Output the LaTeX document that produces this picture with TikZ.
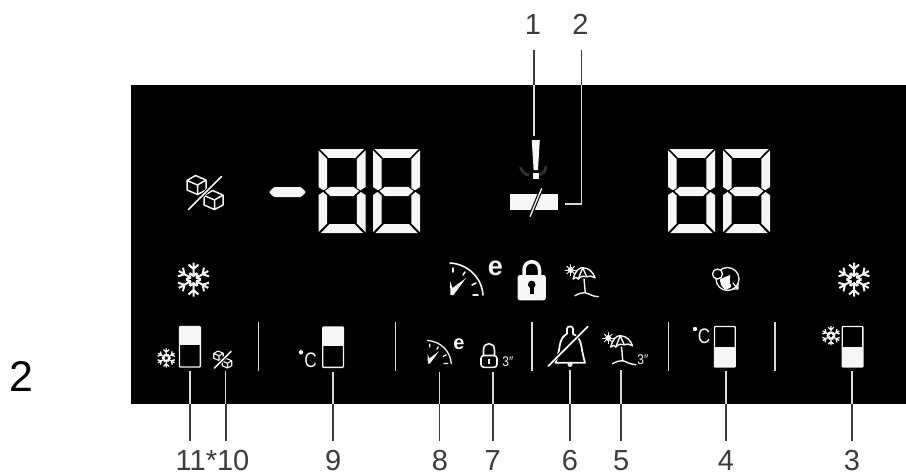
\documentclass[tikz,border=0pt]{standalone}
\usepackage{fontspec}
\setmainfont{Liberation Sans}
\definecolor{ink}{HTML}{F6F6F6}
\definecolor{leadin}{HTML}{D8D8D8}
\definecolor{leadout}{HTML}{3C3C3C}
\tikzset{
  panel/.style={fill=black,draw=none},
  callnum/.style={font=\fontsize{29}{29}\selectfont,text=leadout,anchor=base,inner sep=0pt},
  sidenum/.style={font=\fontsize{43}{43}\selectfont,text=black,anchor=base,inner sep=0pt},
  leadinner/.style={draw=leadin,line width=1.5pt},
  leadouter/.style={draw=leadout,line width=1.6pt},
  sep/.style={draw=leadin,line width=1.5pt},
  icon/.style={draw=ink,line cap=round,line join=round},
  tiny3/.style={font=\fontsize{14}{14}\selectfont,text=ink,inner sep=0pt,xscale=.85},
  degc/.style={font=\fontsize{21}{21}\selectfont,text=ink,inner sep=0pt,xscale=.82},
  ebold/.style={text=ink,inner sep=0pt,font=\bfseries},
  pics/segdigit/.style={code={
    \foreach \m/\o in {1/0,-1/47}{
      \begin{scope}[shift={(\o,0)},xscale=\m]
        \fill[ink] (0,1.3)--(8.6,10)--(8.6,39)--(5,41.3)--(0,38)--cycle;
        \fill[ink] (0,46)--(4.5,43)--(8.6,46.5)--(8.6,74.5)--(0,83)--cycle;
      \end{scope}}
    \fill[ink] (1.5,0)--(45.5,0)--(37,8.8)--(10,8.8)--cycle;
    \fill[ink] (6.5,42)--(12,37.8)--(35,37.8)--(40.5,42)--(35,47)--(12,47)--cycle;
    \fill[ink] (2.5,84)--(11,75)--(36,75)--(44.5,84)--cycle;
  }},
  pics/flake/.style={code={
    \foreach \a in {0,60,...,300}{
      \draw[icon,rotate=\a,line cap=butt] (0,-3.5)--(0,-17) (-5,-15)--(0,-10.5)--(5,-15) (-3.6,-6.5)--(0,-3.5)--(3.6,-6.5);
    }
  }},
  pics/cubes/.style={code={
    \foreach \c in {(-8.5,-7.5),(8.5,7.5)}{
      \begin{scope}[shift={\c}]
        \draw[icon] (-9.5,-4.5)--(-1,-9.5)--(9.5,-5)--(9.5,5)--(1,9.5)--(-9.5,5)--cycle (-9.5,-4.5)--(1,0)--(9.5,-5) (1,0)--(1,9.5);
      \end{scope}}
    \draw[draw=black,line width=3.5pt] (17,-17)--(-17,18);
    \draw[icon,line width=1.7pt] (16.5,-16)--(-16.5,17);
  }},
  pics/gauge/.style={code={
    \draw[icon] (0,-32) .. controls (18,-31) and (32,-17) .. (33,0);
    \draw[icon] (3,-27)--(3,-23) (15,-23)--(13,-20) (26,-12)--(22,-10) (28,0)--(23,0);
    \fill[ink] (0,-14)--(2.5,-7)--(16,-17)--(3.5,0)--(0.5,0)--cycle;
  }},
  pics/parasol/.style={code={
    \fill[ink] (-13.3,-9) circle[radius=3pt];
    \foreach \a in {0,45,...,315}{
      \draw[icon,line width=1pt,rotate around={\a:(-13.3,-9)}] (-13.3,-12)--(-13.3,-14.5);
    }
    \draw[icon] (-10.7,0) .. controls (-9,-8) and (-5,-11.5) .. (-1.3,-11.3) .. controls (5,-11) and (9,-7) .. (11,-1.3);
    \draw[icon] (-10.7,0) .. controls (-8,-2) and (-7,-2) .. (-5.7,0) .. controls (-3,-3) and (0,-3.5) .. (2.7,-2.3) .. controls (5,-3.5) and (8,-3) .. (11,-1.3);
    \draw[icon] (-1.3,-11.3)--(-5.7,0) (-1.3,-11.3)--(2.7,-2.3);
    \draw[icon] (0,0)--(1.3,14);
    \draw[icon] (-9,16.7) .. controls (-5,14.5) and (-2,13.5) .. (1,13.7) .. controls (4,14) and (8,17.5) .. (14.3,17.7);
  }},
}
\begin{document}
\begin{tikzpicture}[x=1pt,y=-1pt,line width=1.3pt]
\useasboundingbox (0,0) rectangle (906,472);
\fill[white] (0,0) rectangle (906,472);
\fill[panel] (131,84.5) rectangle (906,404);

% seven-segment displays
\pic at (318.5,149) {segdigit};
\pic at (373,149) {segdigit};
\pic at (668,149) {segdigit};
\pic at (723,149) {segdigit};
\fill[ink,rounded corners=1pt] (269,192)--(274,187)--(301,187)--(306,192)--(301,197)--(274,197)--cycle;

% cubes
\pic[line width=1.5pt] at (205,192.5) {cubes};
\pic[scale=.5,line width=1.1pt] at (222.7,359.5) {cubes};

% snowflakes
\pic[line width=2pt] at (193.5,279.5) {flake};
\pic[line width=2pt] at (854,279.5) {flake};
\pic[scale=.56,line width=1.3pt] at (166.3,358) {flake};
\pic[scale=.56,line width=1.3pt] at (831,335.7) {flake};

% level bars
\draw[ink,line width=1.4pt,rounded corners=.8pt] (179.5,326.5) rectangle (200.3,367);
\fill[ink] (179.5,326.5) rectangle (200.3,345);
\draw[ink,line width=1.4pt,rounded corners=.8pt] (322.7,327) rectangle (343.5,367.3);
\fill[ink] (322.7,327) rectangle (343.5,346);
\draw[ink,line width=1.4pt,rounded corners=.8pt] (714.5,326.5) rectangle (735.2,367);
\fill[ink] (714.5,346.7) rectangle (735.2,367);
\draw[ink,line width=1.4pt,rounded corners=.8pt] (842.2,326.5) rectangle (862.8,367);
\fill[ink] (842.2,346.7) rectangle (862.8,367);

% degree C
\fill[ink] (301,352.3) circle[radius=2.2pt];
\node[degc] (cleft) at (310.5,360.5) {C};
\fill[ink] (695,329) circle[radius=2.2pt];
\node[degc] (cright) at (704,336) {C};

% separators
\foreach \x in {258.3,395.3,532,668.7,775}{
  \draw[sep] (\x,322)--(\x,371);
}

% exclamation and faint phone, bar
\draw[draw=black!82!white,line width=3pt] (520.5,167) .. controls (522,172) and (526,175) .. (529,175);
\draw[draw=black!82!white,line width=3pt] (540,175) .. controls (543,174) and (545,172) .. (546,166);
\fill[ink] (531.8,140)--(539.8,140)--(538,170)--(533.6,170)--cycle;
\fill[ink] (532.8,172.7) rectangle (538.8,179);
\fill[ink] (510.3,194.3) rectangle (558.3,210);
\draw[draw=black,line width=3.6pt] (541.7,188.3)--(530,216.7);
\draw[draw=ink,line width=1.3pt] (541.7,188.3)--(530,216.7);

% gauge, e
\pic[line width=1.6pt] at (450,295) {gauge};
\node[ebold,font=\fontsize{27}{27}\selectfont\bfseries] (elarge) at (495.5,268.3) {e};
\pic[scale=.72,line width=1.3pt] at (427.5,363.5) {gauge};
\node[ebold,font=\fontsize{20}{20}\selectfont\bfseries] (esmall) at (459,344.6) {e};

% large lock
\draw[draw=ink,line width=3.5pt] (524,276) -- (524,270) .. controls (524,259) and (539.5,259) .. (539.5,270) -- (539.5,276);
\fill[ink,rounded corners=2.2pt] (517.7,275) rectangle (545.8,300.3);
\fill[black] (531.7,284.5) circle[radius=3.8pt];
\fill[black] (529.6,285) rectangle (533.8,293.5);

% small lock
\draw[draw=ink,line width=1.6pt] (483.5,356) -- (483.5,350) .. controls (483.5,341.5) and (494.5,341.5) .. (494.5,350) -- (494.5,356);
\draw[draw=ink,line width=1.6pt,rounded corners=3pt] (481,355.5) rectangle (497,367.3);
\draw[draw=ink,line width=1.6pt] (489,358.5)--(489,363.5);
\node[tiny3] (lock3) at (507.8,362) {3″};

% bell
\draw[draw=ink,line width=1.8pt,line join=round] (567,334) -- (567,329) .. controls (567,325.5) and (573,325.5) .. (573,329) -- (573,334)
  .. controls (581,337) and (581,345) .. (582,350) .. controls (583,355) and (584,359) .. (585,362.7) -- (555.5,362.7)
  .. controls (557,359) and (558,355) .. (559,350) .. controls (560,345) and (560,337) .. (567,334);
\fill[ink] (570,364.5) circle[radius=2.5pt];
\draw[draw=black,line width=3.4pt] (590,324.5)--(552,362);
\draw[draw=ink,line width=1.7pt,line cap=round] (587.7,326.7)--(548.3,366);

% parasols
\pic[line width=1.4pt] at (584,279) {parasol};
\pic[line width=1.4pt] at (621.5,347) {parasol};
\node[tiny3] (beach3) at (642.8,360) {3″};

% globe
\draw[icon,line width=1.3pt] (727.5,279) circle[radius=11.5pt];
\fill[ink] (720,279) -- (730,275) -- (731,287) -- (726,290) .. controls (722,288) and (720,284) .. (720,279);
\fill[black] (729.5,277.5) rectangle (735,284);
\draw[icon,fill=black,line width=1.3pt] (717.5,274) circle[radius=5pt];
\draw[icon,line width=1.2pt] (733,283) -- (738,289) (738,283) -- (738,289) -- (732.5,289);

% call-out numbers
\node[callnum] (n1) at (533,34.3) {1};
\node[callnum] (n2) at (580.5,34.3) {2};
\node[callnum] (n1110) at (212.5,470.3) {11*10};
\node[callnum] (n9) at (333.3,470.3) {9};
\node[callnum] (n8) at (440,470.3) {8};
\node[callnum] (n7) at (492.7,470.3) {7};
\node[callnum] (n6) at (570,470.3) {6};
\node[callnum] (n5) at (621.3,470.3) {5};
\node[callnum] (n4) at (726,470.3) {4};
\node[callnum] (n3) at (852,470.3) {3};
\node[sidenum] (side) at (21,391.7) {2};

% connectors, top
\coordinate (t1) at (534,50); \coordinate (e1) at (534,85); \coordinate (a1) at (534,135.5);
\coordinate (t2) at (581.5,50); \coordinate (e2) at (581.5,85); \coordinate (b2) at (581.5,204); \coordinate (a2) at (565,204);
\draw[leadouter] (t1)--(e1); \draw[leadinner] (e1)--(a1);
\draw[leadouter] (t2)--(e2); \draw[leadinner] (e2)--(b2)--(a2);

% connectors, bottom
\foreach \nm/\x/\y in {k/190/371,j/225.7/371,i/333/371.5,h/439.5/371.5,g/493/371.5,f/570/370,e/621/370,d/726/370.5,c/852/371}{
  \coordinate (a\nm) at (\x,\y);
  \coordinate (e\nm) at (\x,404);
  \coordinate (b\nm) at (\x,441);
  \draw[leadinner] (a\nm)--(e\nm);
  \draw[leadouter] (e\nm)--(b\nm);
}
\end{tikzpicture}
\end{document}
